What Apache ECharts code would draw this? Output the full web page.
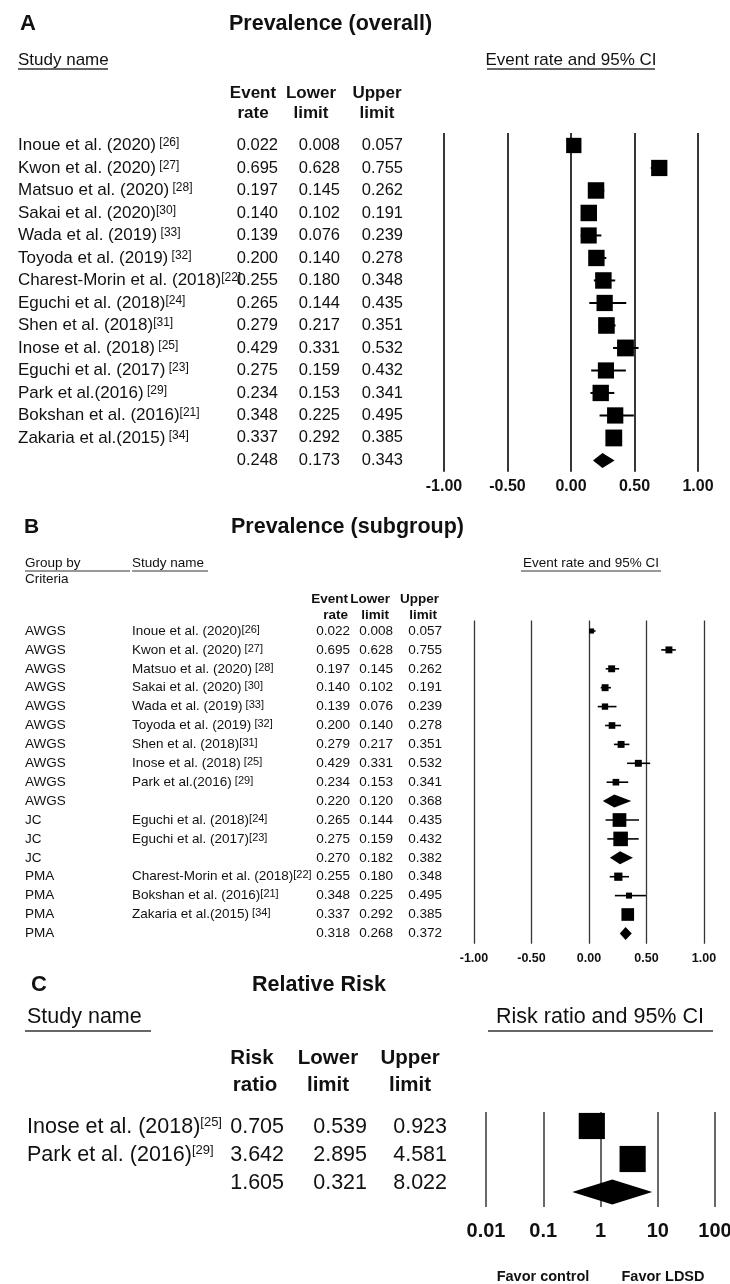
<!DOCTYPE html>
<html>
<head>
<meta charset="utf-8">
<script src="https://cdn.jsdelivr.net/npm/echarts@6/dist/echarts.min.js"></script>
<style>
html,body{margin:0;padding:0;background:#fff;}
#chart{width:730px;height:1284px;}
</style>
</head>
<body>
<div id="chart"></div>
<script>
// ---------- Panel A: Prevalence (overall) ----------
const studiesA = ["Inoue et al. (2020)", "Kwon et al. (2020)", "Matsuo et al. (2020)", "Sakai et al. (2020)",
  "Wada et al. (2019)", "Toyoda et al. (2019)", "Charest-Morin et al. (2018)", "Eguchi et al. (2018)",
  "Shen et al. (2018)", "Inose et al. (2018)", "Eguchi et al. (2017)", "Park et al.(2016)",
  "Bokshan et al. (2016)", "Zakaria et al.(2015)"];
const refsA = [" [26]", " [27]", " [28]", "[30]", " [33]", " [32]", "[22]", "[24]", "[31]", " [25]", " [23]", " [29]", "[21]", " [34]"];
const rateA  = [0.022, 0.695, 0.197, 0.140, 0.139, 0.200, 0.255, 0.265, 0.279, 0.429, 0.275, 0.234, 0.348, 0.337];
const lowerA = [0.008, 0.628, 0.145, 0.102, 0.076, 0.140, 0.180, 0.144, 0.217, 0.331, 0.159, 0.153, 0.225, 0.292];
const upperA = [0.057, 0.755, 0.262, 0.191, 0.239, 0.278, 0.348, 0.435, 0.351, 0.532, 0.432, 0.341, 0.495, 0.385];
const weightA = [6.3, 7.1, 7.3, 7.3, 7.0, 7.2, 7.3, 7.1, 7.4, 7.6, 7.0, 7.2, 7.1, 7.6];
const pooledA = [0.248, 0.173, 0.343];

// ---------- Panel B: Prevalence (subgroup) ----------
const groupB = ["AWGS", "AWGS", "AWGS", "AWGS", "AWGS", "AWGS", "AWGS", "AWGS", "AWGS", "AWGS",
  "JC", "JC", "JC", "PMA", "PMA", "PMA", "PMA"];
const studiesB = ["Inoue et al. (2020)", "Kwon et al. (2020)", "Matsuo et al. (2020)", "Sakai et al. (2020)",
  "Wada et al. (2019)", "Toyoda et al. (2019)", "Shen et al. (2018)", "Inose et al. (2018)", "Park et al.(2016)", "",
  "Eguchi et al. (2018)", "Eguchi et al. (2017)", "",
  "Charest-Morin et al. (2018)", "Bokshan et al. (2016)", "Zakaria et al.(2015)", ""];
const refsB = ["[26]", " [27]", " [28]", " [30]", " [33]", " [32]", "[31]", " [25]", " [29]", "",
  "[24]", "[23]", "", "[22]", "[21]", " [34]", ""];
const rateB  = [0.022, 0.695, 0.197, 0.140, 0.139, 0.200, 0.279, 0.429, 0.234, 0.220, 0.265, 0.275, 0.270, 0.255, 0.348, 0.337, 0.318];
const lowerB = [0.008, 0.628, 0.145, 0.102, 0.076, 0.140, 0.217, 0.331, 0.153, 0.120, 0.144, 0.159, 0.182, 0.180, 0.225, 0.292, 0.268];
const upperB = [0.057, 0.755, 0.262, 0.191, 0.239, 0.278, 0.351, 0.532, 0.341, 0.368, 0.435, 0.432, 0.382, 0.348, 0.495, 0.385, 0.372];
// relative study weights within subgroup (null = pooled subgroup row)
const weightB = [6.5, 12, 12, 12, 10, 11, 12, 12, 11, null, 47, 53, null, 17, 9, 40, null];

// ---------- Panel C: Relative Risk ----------
const studiesC = ["Inose et al. (2018)", "Park et al. (2016)"];
const refsC = ["[25]", "[29]"];
const rrC    = [0.705, 3.642];
const lowerC = [0.539, 2.895];
const upperC = [0.923, 4.581];
const weightC = [50, 50];
const pooledC = [1.605, 0.321, 8.022];

// ---------- Axis ticks ----------
const ticksAB = [-1, -0.5, 0, 0.5, 1];
const tickLabelsAB = ["-1.00", "-0.50", "0.00", "0.50", "1.00"];
const ticksC = [0.01, 0.1, 1, 10, 100];
const tickLabelsC = ["0.01", "0.1", "1", "10", "100"];

// ---------- helpers ----------
const FF = '"Liberation Sans", Arial, Helvetica, sans-serif';
const INK = '#111';
const GRIDLINE = '#363636';
function fnt(size, bold) { return (bold ? 'bold ' : '') + size + 'px ' + FF; }
function textEl(x, y, text, size, opts) {
  opts = opts || {};
  const align = opts.align || 'left';
  const style = { text: text, x: 0, y: 0, font: fnt(size, opts.bold), fill: INK,
    align: align, verticalAlign: 'middle' };
  if (opts.rich) style.rich = opts.rich;
  return { type: 'text', x: x, y: y, silent: true, style: style };
}
function lineEl(x1, x2, y, w) {
  return { type: 'line', silent: true, shape: { x1: x1, y1: y, x2: x2, y2: y }, style: { stroke: '#333', lineWidth: w || 1.3 } };
}
function supRich(size, supSize) {
  return {
    n: { font: fnt(size), fill: INK, lineHeight: size },
    s: { font: fnt(supSize), fill: INK, lineHeight: size - 4, verticalAlign: 'top' }
  };
}
function nameText(name, ref) { return '{n|' + name + '}' + (ref ? '{s|' + ref + '}' : ''); }

function boxRenderer(k, lw) {
  return function (params, api) {
    const row = api.value(0);
    const c = api.coord([api.value(1), row]);
    const a = api.coord([api.value(2), row]);
    const b = api.coord([api.value(3), row]);
    const s = k * Math.sqrt(api.value(4));
    return { type: 'group', children: [
      { type: 'line', shape: { x1: a[0], y1: c[1], x2: b[0], y2: c[1] }, style: { stroke: '#000', lineWidth: lw } },
      { type: 'rect', shape: { x: c[0] - s / 2, y: c[1] - s / 2, width: s, height: s }, style: { fill: '#000' } }
    ] };
  };
}
function diamondRenderer(h) {
  return function (params, api) {
    const row = api.value(0);
    const c = api.coord([api.value(1), row]);
    const a = api.coord([api.value(2), row]);
    const b = api.coord([api.value(3), row]);
    return { type: 'polygon', shape: { points: [[a[0], c[1]], [c[0], c[1] - h / 2], [b[0], c[1]], [c[0], c[1] + h / 2]] },
      style: { fill: '#000' } };
  };
}

function tableA(params, api) {
  const k = params.dataIndex;
  const y = api.coord([api.value(1), api.value(0)])[1];
  const ch = [];
  let vals = pooledA;
  if (k < studiesA.length) {
    ch.push(textEl(18, y, nameText(studiesA[k], refsA[k]), 17, { rich: supRich(17, 12) }));
    vals = [rateA[k], lowerA[k], upperA[k]];
  }
  const xs = [278, 340, 403];
  vals.forEach(function (v, j) { ch.push(textEl(xs[j], y, v.toFixed(3), 16.5, { align: 'right' })); });
  return { type: 'group', children: ch };
}
function tableB(params, api) {
  const k = params.dataIndex;
  const y = api.coord([api.value(1), api.value(0)])[1];
  const ch = [textEl(25, y, groupB[k], 13.5)];
  if (studiesB[k]) ch.push(textEl(132, y, nameText(studiesB[k], refsB[k]), 13.5, { rich: supRich(13.5, 11) }));
  const xs = [350, 393, 442];
  [rateB[k], lowerB[k], upperB[k]].forEach(function (v, j) { ch.push(textEl(xs[j], y, v.toFixed(3), 13.5, { align: 'right' })); });
  return { type: 'group', children: ch };
}
function tableC(params, api) {
  const k = params.dataIndex;
  const y = api.coord([api.value(1), api.value(0)])[1];
  const ch = [];
  let vals = pooledC;
  if (k < studiesC.length) {
    ch.push(textEl(27, y, nameText(studiesC[k], refsC[k]), 21.5, { rich: supRich(21.5, 13) }));
    vals = [rrC[k], lowerC[k], upperC[k]];
  }
  const xs = [284, 367, 447];
  vals.forEach(function (v, j) { ch.push(textEl(xs[j], y, v.toFixed(3), 21.5, { align: 'right' })); });
  return { type: 'group', children: ch };
}

function linAxis(gi, size, margin, lw) {
  return {
    gridIndex: gi, type: 'value', min: -1, max: 1, interval: 0.5,
    axisLine: { show: false }, axisTick: { show: false },
    splitLine: { show: true, lineStyle: { color: GRIDLINE, width: lw, type: 'solid' } },
    axisLabel: { show: true, margin: margin, color: INK, fontSize: size, fontWeight: 'bold', fontFamily: FF,
      formatter: function (v) { const i = ticksAB.findIndex(function (t) { return Math.abs(t - v) < 1e-9; }); return i < 0 ? '' : tickLabelsAB[i]; } }
  };
}

// ---------- static headings ----------
const graphics = [
  // Panel A
  textEl(20, 24, 'A', 22, { bold: true }),
  textEl(229, 24, 'Prevalence (overall)', 21.5, { bold: true }),
  textEl(18, 60, 'Study name', 17), lineEl(18, 108, 69),
  textEl(571, 60, 'Event rate and 95% CI', 17, { align: 'center' }), lineEl(487, 655, 69),
  textEl(253, 93, 'Event', 17, { bold: true, align: 'center' }), textEl(253, 113, 'rate', 17, { bold: true, align: 'center' }),
  textEl(311, 93, 'Lower', 17, { bold: true, align: 'center' }), textEl(311, 113, 'limit', 17, { bold: true, align: 'center' }),
  textEl(377, 93, 'Upper', 17, { bold: true, align: 'center' }), textEl(377, 113, 'limit', 17, { bold: true, align: 'center' }),
  // Panel B
  textEl(24, 527, 'B', 21, { bold: true }),
  textEl(231, 527, 'Prevalence (subgroup)', 21.5, { bold: true }),
  textEl(25, 563, 'Group by', 13.5), lineEl(25, 130, 571, 1.1),
  textEl(132, 563, 'Study name', 13.5), lineEl(132, 208, 571, 1.1),
  textEl(25, 579, 'Criteria', 13.5),
  textEl(591, 563, 'Event rate and 95% CI', 13.5, { align: 'center' }), lineEl(521, 661, 571, 1.1),
  textEl(348, 599, 'Event', 13.5, { bold: true, align: 'right' }), textEl(348, 615, 'rate', 13.5, { bold: true, align: 'right' }),
  textEl(390, 599, 'Lower', 13.5, { bold: true, align: 'right' }), textEl(389, 615, 'limit', 13.5, { bold: true, align: 'right' }),
  textEl(439, 599, 'Upper', 13.5, { bold: true, align: 'right' }), textEl(437, 615, 'limit', 13.5, { bold: true, align: 'right' }),
  // Panel C
  textEl(31, 985, 'C', 22, { bold: true }),
  textEl(252, 985, 'Relative Risk', 21.5, { bold: true }),
  textEl(27, 1017, 'Study name', 21.5), lineEl(25, 151, 1031, 1.5),
  textEl(600, 1017, 'Risk ratio and 95% CI', 21.5, { align: 'center' }), lineEl(488, 713, 1031, 1.5),
  textEl(252, 1058, 'Risk', 20.5, { bold: true, align: 'center' }), textEl(255, 1085, 'ratio', 20.5, { bold: true, align: 'center' }),
  textEl(328, 1058, 'Lower', 20.5, { bold: true, align: 'center' }), textEl(328, 1085, 'limit', 20.5, { bold: true, align: 'center' }),
  textEl(410, 1058, 'Upper', 20.5, { bold: true, align: 'center' }), textEl(410, 1085, 'limit', 20.5, { bold: true, align: 'center' }),
  textEl(543, 1277, 'Favor control', 14.5, { bold: true, align: 'center' }),
  textEl(663, 1277, 'Favor LDSD', 14.5, { bold: true, align: 'center' })
];

const chart = echarts.init(document.getElementById('chart'), null, { renderer: 'canvas', width: 730, height: 1284 });
const option = {
  animation: false,
  backgroundColor: '#ffffff',
  grid: [
    { left: 444, top: 133.1, width: 254, height: 338.6, outerBoundsMode: 'none', containLabel: false },
    { left: 474, top: 620.6, width: 230, height: 323.2, outerBoundsMode: 'none', containLabel: false },
    { left: 486, top: 1112, width: 229, height: 95, outerBoundsMode: 'none', containLabel: false }
  ],
  xAxis: [
    linAxis(0, 16, 7, 2),
    linAxis(1, 12.5, 8, 1.3),
    {
      gridIndex: 2, type: 'log', logBase: 10, min: 0.01, max: 100,
      axisLine: { show: false }, axisTick: { show: false },
      minorTick: { show: false }, minorSplitLine: { show: false },
      splitLine: { show: true, lineStyle: { color: GRIDLINE, width: 1.5, type: 'solid' } },
      axisLabel: { show: true, margin: 14, color: INK, fontSize: 20, fontWeight: 'bold', fontFamily: FF,
        formatter: function (v) {
          const i = ticksC.findIndex(function (t) { return Math.abs(Math.log10(t) - Math.log10(v)) < 1e-6; });
          return i < 0 ? '' : tickLabelsC[i];
        } }
    }
  ],
  yAxis: [
    { gridIndex: 0, type: 'value', inverse: true, min: -0.55, max: 14.5, show: false },
    { gridIndex: 1, type: 'value', inverse: true, min: -0.55, max: 16.55, show: false },
    { gridIndex: 2, type: 'value', inverse: true, min: -0.424, max: 2.4545, show: false },
    { gridIndex: 2, type: 'value', inverse: true, min: -0.5357, max: 2.857, show: false }
  ],
  graphic: { elements: graphics },
  series: [
    // Panel A
    { type: 'custom', xAxisIndex: 0, yAxisIndex: 0, clip: false, encode: { x: 1, y: 0 }, z: 5,
      renderItem: boxRenderer(6.1, 2),
      data: rateA.map(function (v, k) { return [k, v, lowerA[k], upperA[k], weightA[k]]; }) },
    { type: 'custom', xAxisIndex: 0, yAxisIndex: 0, clip: false, encode: { x: 1, y: 0 }, z: 5,
      renderItem: diamondRenderer(15),
      data: [[studiesA.length, pooledA[0], pooledA[1], pooledA[2]]] },
    { type: 'custom', xAxisIndex: 0, yAxisIndex: 0, clip: false, encode: { x: 1, y: 0 }, z: 5,
      renderItem: tableA,
      data: rateA.map(function (v, k) { return [k, v]; }).concat([[studiesA.length, pooledA[0]]]) },
    // Panel B
    { type: 'custom', xAxisIndex: 1, yAxisIndex: 1, clip: false, encode: { x: 1, y: 0 }, z: 5,
      renderItem: boxRenderer(2.0, 1.6),
      data: rateB.map(function (v, k) { return [k, v, lowerB[k], upperB[k], weightB[k]]; })
        .filter(function (d) { return d[4] !== null; }) },
    { type: 'custom', xAxisIndex: 1, yAxisIndex: 1, clip: false, encode: { x: 1, y: 0 }, z: 5,
      renderItem: diamondRenderer(13),
      data: rateB.map(function (v, k) { return [k, v, lowerB[k], upperB[k], weightB[k]]; })
        .filter(function (d) { return d[4] === null; }).map(function (d) { return d.slice(0, 4); }) },
    { type: 'custom', xAxisIndex: 1, yAxisIndex: 1, clip: false, encode: { x: 1, y: 0 }, z: 5,
      renderItem: tableB,
      data: rateB.map(function (v, k) { return [k, v]; }) },
    // Panel C
    { type: 'custom', xAxisIndex: 2, yAxisIndex: 2, clip: false, encode: { x: 1, y: 0 }, z: 5,
      renderItem: boxRenderer(3.7, 2),
      data: rrC.map(function (v, k) { return [k, v, lowerC[k], upperC[k], weightC[k]]; }) },
    { type: 'custom', xAxisIndex: 2, yAxisIndex: 2, clip: false, encode: { x: 1, y: 0 }, z: 5,
      renderItem: diamondRenderer(25),
      data: [[studiesC.length, pooledC[0], pooledC[1], pooledC[2]]] },
    { type: 'custom', xAxisIndex: 2, yAxisIndex: 3, clip: false, encode: { x: 1, y: 0 }, z: 5,
      renderItem: tableC,
      data: rrC.map(function (v, k) { return [k, v]; }).concat([[studiesC.length, pooledC[0]]]) }
  ]
};
chart.setOption(option);
</script>
</body>
</html>
